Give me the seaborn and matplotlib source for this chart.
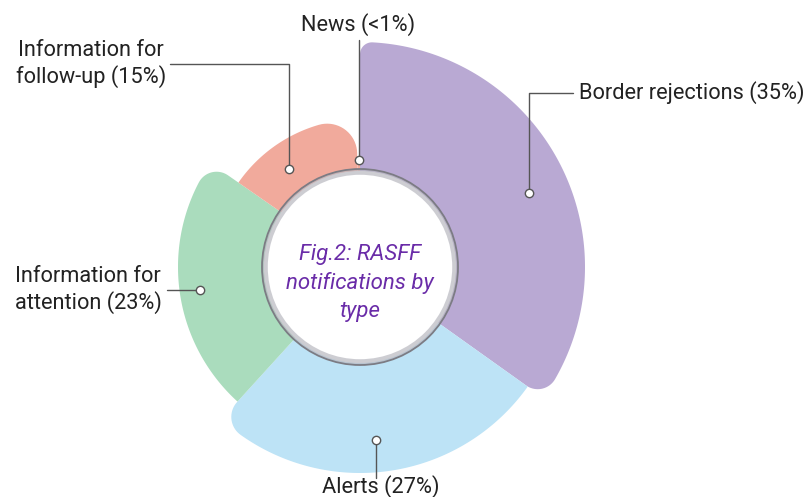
"""RASFF notifications by type - variable radius pie with rounded corners."""
import numpy as np
import matplotlib
matplotlib.use("Agg")
import matplotlib.pyplot as plt
from matplotlib.patches import Polygon, Circle
import seaborn as sns

# Data (clockwise from 12 o'clock)
categories = ["Border rejections", "Alerts", "Information for attention",
              "Information for follow-up", "News"]
shares = [35, 27, 23, 15, 0.4]
labels = ["Border rejections (35%)", "Alerts (27%)", "Information for\nattention (23%)",
          "Information for\nfollow-up (15%)", "News (<1%)"]
colors = ["#b9a9d3", "#bde3f6", "#aadcbd", "#f1aa9c", "#f1aa9c"]

# style: outer radius of each slice (px), corner rounding (start, end)
outer_r = [225, 206, 182, 148, 104]
corner_r = [(12, 20), (0, 22), (0, 20), (0, 30), (0, 0)]
# style: leader dot position (fraction of slice angle, fraction of radius)
dot_pos = [(0.53, 0.82), (0.51, 0.845), (0.48, 0.89), (0.36, 0.82), (0.5, 1.03)]

W, H = 806, 497
CX, CY = 360, 267
R_HOLE = 98


def pt(r, t):
    """Screen point for radius r and clockwise-from-top angle t (deg)."""
    a = np.radians(t)
    return CX + r * np.sin(a), CY - r * np.cos(a)


def fillet(t, R, rc, start):
    phi = np.degrees(np.arcsin(rc / (R - rc)))
    d = (R - rc) * np.cos(np.radians(phi))
    if start:
        c = pt(R - rc, t + phi)
        arc = np.linspace(t - 90, t + phi, 20)
    else:
        c = pt(R - rc, t - phi)
        arc = np.linspace(t - phi, t + 90, 20)
    pts = [(c[0] + rc * np.sin(np.radians(a)), c[1] - rc * np.cos(np.radians(a))) for a in arc]
    if start:
        return [pt(d, t)] + pts, phi
    return pts + [pt(d, t)], phi


def rounded_wedge(t0, t1, R, rc0, rc1):
    pts = [(CX, CY)]
    p0, phi0 = ([pt(R, t0)], 0) if rc0 == 0 else fillet(t0, R, rc0, True)
    p1, phi1 = ([pt(R, t1)], 0) if rc1 == 0 else fillet(t1, R, rc1, False)
    pts += p0
    pts += [pt(R, t) for t in np.linspace(t0 + phi0, t1 - phi1, 120)]
    pts += p1
    return pts


sns.set_theme(style="white")
plt.rcParams["font.family"] = ["Roboto", "DejaVu Sans"]

fig = plt.figure(figsize=(W / 100, H / 100), dpi=100)
ax = fig.add_axes([0, 0, 1, 1])
ax.set_xlim(0, W)
ax.set_ylim(H, 0)
ax.axis("off")

total = sum(shares)
angles = np.cumsum([0] + [s / total * 360 for s in shares])

for i, col in enumerate(colors):
    poly = Polygon(rounded_wedge(angles[i], angles[i + 1], outer_r[i], *corner_r[i]),
                   closed=True, facecolor=col, edgecolor="none", zorder=1)
    ax.add_patch(poly)

# centre disc with grey ring
ax.add_patch(Circle((CX, CY), R_HOLE - 2, facecolor="white", edgecolor="none", zorder=3))
ax.add_patch(Circle((CX, CY), R_HOLE - 3, facecolor="none", edgecolor="#b8b8c0",
                    lw=4, alpha=0.7, zorder=4))
ax.add_patch(Circle((CX, CY), R_HOLE, facecolor="none", edgecolor="#7c7c84",
                    lw=1.3, zorder=4))
ax.text(CX, CY + 16, "Fig.2: RASFF\nnotifications by\ntype", ha="center", va="center",
        color="#6a2ca8", fontsize=16, style="italic", linespacing=1.45, zorder=5)

# leader lines and labels
line_kw = dict(color="#555555", lw=1.0, zorder=6)
txt_kw = dict(color="#222222", fontsize=15.7, zorder=6, linespacing=1.2)
dots = []
for i in range(len(shares)):
    fa, fr = dot_pos[i]
    dots.append(pt(outer_r[i] * fr, angles[i] + fa * (angles[i + 1] - angles[i])))

# Border rejections
x, y = dots[0]
ax.plot([x, x, 573], [y, 93, 93], **line_kw)
ax.text(579, 93, labels[0], ha="left", va="center", **txt_kw)
# Alerts
x, y = dots[1]
ax.plot([x, x], [y, 478], **line_kw)
ax.text(381, 493, labels[1], ha="center", va="baseline", **txt_kw)
# Information for attention
x, y = dots[2]
ax.plot([x, 167], [y, y], **line_kw)
ax.text(88, 290, labels[2], ha="center", va="center", multialignment="center", **txt_kw)
# Information for follow-up
x, y = dots[3]
ax.plot([x, x, 170], [y, 64, 64], **line_kw)
ax.text(91, 64, labels[3], ha="center", va="center", multialignment="center", **txt_kw)
# News
x, y = dots[4]
ax.plot([x, x], [y, 40], **line_kw)
ax.text(358, 25, labels[4], ha="center", va="center", **txt_kw)

for x, y in dots:
    ax.plot(x, y, "o", ms=6, mfc="white", mec="#555555", mew=1.0, zorder=7)

fig.savefig("out.png", dpi=100)
